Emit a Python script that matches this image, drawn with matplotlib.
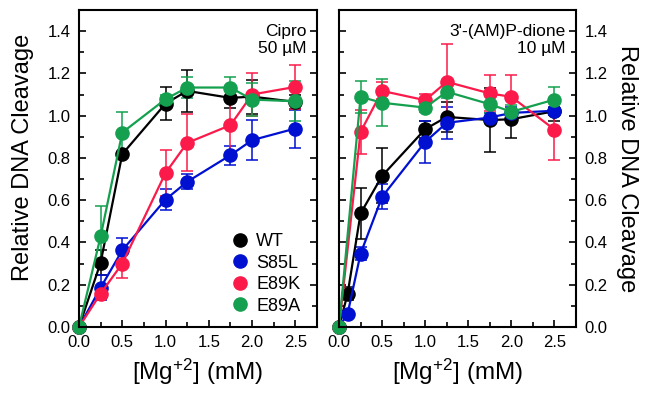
import matplotlib
matplotlib.use('Agg')
import matplotlib.pyplot as plt
from matplotlib.lines import Line2D
from matplotlib.ticker import MultipleLocator, FormatStrFormatter

plt.rcParams['font.family'] = ['Liberation Sans', 'DejaVu Sans']
plt.rcParams['mathtext.default'] = 'regular'

strains = ['WT', 'S85L', 'E89K', 'E89A']
colors = ['#000000', '#0010d0', '#fb1a4a', '#14a04e']

# Cipro 50 uM
cipro_x = [0, 0.25, 0.5, 1.0, 1.25, 1.75, 2.0, 2.5]
cipro_wt = [0, 0.305, 0.818, 1.057, 1.117, 1.084, 1.09, 1.065]
cipro_wt_err = [0, 0.06, 0.01, 0.08, 0.10, 0.05, 0.08, 0.035]
cipro_s85l = [0, 0.186, 0.363, 0.603, 0.687, 0.813, 0.884, 0.939]
cipro_s85l_err = [0, 0.06, 0.06, 0.05, 0.035, 0.045, 0.095, 0.09]
cipro_e89k = [0, 0.158, 0.30, 0.729, 0.871, 0.955, 1.10, 1.136]
cipro_e89k_err = [0, 0.02, 0.07, 0.11, 0.135, 0.16, 0.10, 0.105]
cipro_e89a = [0, 0.429, 0.92, 1.078, 1.133, 1.133, 1.076, 1.068]
cipro_e89a_err = [0, 0.145, 0.095, 0.02, 0.05, 0.05, 0.08, 0.095]

# 3'-(AM)P-dione 10 uM
dione_x_low = [0, 0.1, 0.25, 0.5, 1.0, 1.25, 1.75, 2.0, 2.5]
dione_x = [0, 0.25, 0.5, 1.0, 1.25, 1.75, 2.0, 2.5]
dione_wt = [0, 0.158, 0.537, 0.715, 0.936, 0.994, 0.979, 0.983, 1.021]
dione_wt_err = [0, 0.03, 0.12, 0.13, 0.04, 0.07, 0.15, 0.09, 0.045]
dione_s85l = [0, 0.063, 0.347, 0.616, 0.876, 0.966, 0.991, 1.013, 1.023]
dione_s85l_err = [0, 0.01, 0.03, 0.06, 0.10, 0.075, 0.02, 0.03, 0.02]
dione_e89k = [0, 0.923, 1.117, 1.073, 1.16, 1.105, 1.089, 0.934]
dione_e89k_err = [0, 0.105, 0.04, 0.03, 0.18, 0.085, 0.105, 0.145]
dione_e89a = [0, 1.089, 1.061, 1.038, 1.113, 1.054, 1.018, 1.076]
dione_e89a_err = [0, 0.075, 0.11, 0.02, 0.03, 0.04, 0.03, 0.06]

panels = [
    ([(cipro_x, cipro_wt, cipro_wt_err), (cipro_x, cipro_s85l, cipro_s85l_err),
      (cipro_x, cipro_e89k, cipro_e89k_err), (cipro_x, cipro_e89a, cipro_e89a_err)],
     'Cipro\n50 µM'),
    ([(dione_x_low, dione_wt, dione_wt_err), (dione_x_low, dione_s85l, dione_s85l_err),
      (dione_x, dione_e89k, dione_e89k_err), (dione_x, dione_e89a, dione_e89a_err)],
     "3'-(AM)P-dione\n10 µM"),
]

fig = plt.figure(figsize=(6.46, 3.94), dpi=100)
ax1 = fig.add_axes([0.1223, 0.1701, 0.3684, 0.8046])
ax2 = fig.add_axes([0.5248, 0.1701, 0.3669, 0.8046])

for ax, (series, note) in zip([ax1, ax2], panels):
    for (x, y, e), c in zip(series, colors):
        ax.errorbar(x, y, yerr=e, color=c, ecolor=c, lw=1.6, elinewidth=1.1,
                    capsize=4.5, capthick=1.1, marker='o', markersize=9.5,
                    clip_on=False)
    ax.set_xlim(0, 2.75)
    ax.set_ylim(0, 1.5)
    ax.xaxis.set_major_locator(MultipleLocator(0.5))
    ax.xaxis.set_minor_locator(MultipleLocator(0.25))
    ax.yaxis.set_major_locator(MultipleLocator(0.2))
    ax.yaxis.set_minor_locator(MultipleLocator(0.1))
    ax.xaxis.set_major_formatter(FormatStrFormatter('%.1f'))
    ax.yaxis.set_major_formatter(FormatStrFormatter('%.1f'))
    ax.tick_params(which='both', direction='in', left=True, right=True,
                   bottom=True, top=False, width=1.2, labelsize=12)
    ax.tick_params(which='major', length=5, pad=6)
    ax.tick_params(which='minor', length=3.5)
    for sp in ax.spines.values():
        sp.set_linewidth(1.5)
    ax.text(0.955, 0.955, note, transform=ax.transAxes, ha='right', va='top',
            fontsize=12.5, linespacing=1.15)
    ax.set_xlabel('[Mg$^{+2}$] (mM)', fontsize=17.5, labelpad=5)

ax1.set_ylabel('Relative DNA Cleavage', fontsize=17)
ax1.yaxis.set_label_coords(-0.19, 0.535)

ax2.tick_params(which='both', labelleft=False, labelright=True)
ax2.yaxis.set_label_position('right')
ax2.set_ylabel('Relative DNA Cleavage', fontsize=17, rotation=270, labelpad=22)

handles = [Line2D([], [], color=c, marker='o', markersize=9.5, linestyle='none')
           for c in colors]
ax1.legend(handles, strains, loc='lower right', bbox_to_anchor=(0.975, 0.005),
           frameon=False, fontsize=13, handletextpad=0.3, labelspacing=0.25,
           borderaxespad=0.2, handlelength=1.2)

fig.savefig('out.png', dpi=100)
